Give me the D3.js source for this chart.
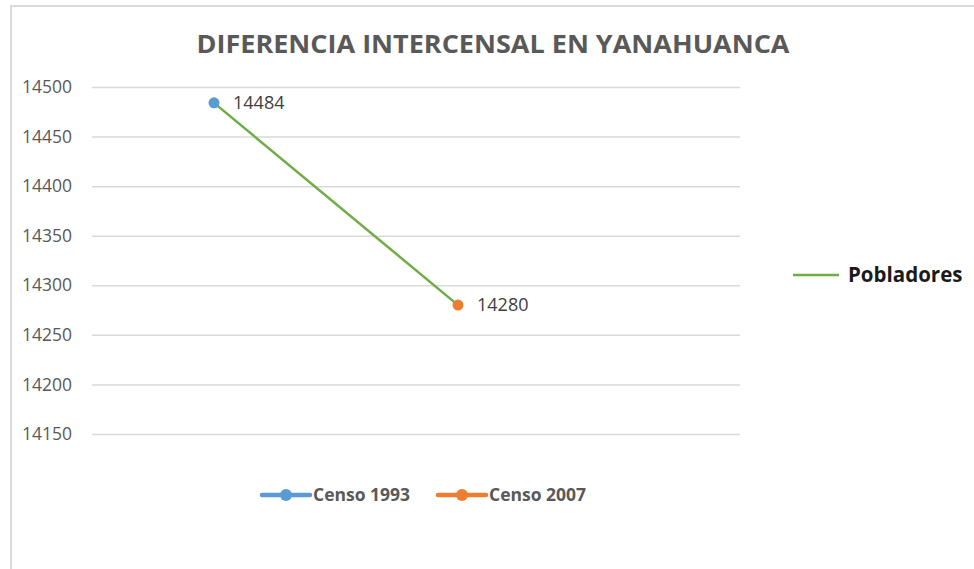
<!doctype html>
<html>
<head>
<meta charset="utf-8">
<title>Diferencia intercensal</title>
<script src="https://cdn.jsdelivr.net/npm/d3@7"></script>
<style>
    html, body { margin: 0; padding: 0; background: #fff; }
    svg { display: block; }
</style>
</head>
<body>
<svg width="974" height="569"></svg>
<script>
    var categories = ['Censo 1993', 'Censo 2007'];
    var values = [14484, 14280];
    var seriesColors = ['#5b9bd5', '#ed7d31'];
    var lineName = 'Pobladores';
    var yTicks = [14150, 14200, 14250, 14300, 14350, 14400, 14450, 14500];

    var svg = d3.select('svg');
    var font = '"Open Sans", "Liberation Sans", sans-serif';

    // chart frame
    svg.append('path')
        .attr('d', 'M11,569V6H974')
        .attr('fill', 'none')
        .attr('stroke', '#d9d9d9')
        .attr('stroke-width', 2);

    svg.append('text')
        .attr('x', 493).attr('y', 53)
        .attr('text-anchor', 'middle')
        .attr('textLength', 593)
        .attr('lengthAdjust', 'spacingAndGlyphs')
        .style('font-family', font)
        .style('font-size', '25px')
        .style('font-weight', 'bold')
        .attr('fill', '#595959')
        .text('DIFERENCIA INTERCENSAL EN YANAHUANCA');

    var yScale = d3.scaleLinear().domain([14150, 14500]).range([434, 87]);
    var xScale = d3.scaleBand().domain(categories).range([92, 580]);
    var gridRight = 740;

    var yAxis = d3.axisLeft(yScale).tickValues(yTicks).tickSize(-(gridRight - 92)).tickPadding(16).tickFormat(d3.format('d'));
    var yAxisGroup = svg.append('g')
        .attr('transform', 'translate(92,0)')
        .call(yAxis);
    yAxisGroup.select('.domain').remove();
    yAxisGroup.selectAll('.tick line').attr('stroke', '#d9d9d9').attr('stroke-width', 1.5);
    yAxisGroup.selectAll('.tick text')
        .attr('x', -20)
        .style('font-family', font)
        .style('font-size', '17.5px')
        .attr('fill', '#595959');

    var cx = function(i) { return xScale(categories[i]) + xScale.bandwidth() / 2; };

    var line = d3.line()
        .x(function(d, i) { return cx(i); })
        .y(function(d) { return yScale(d); });

    svg.append('path')
        .datum(values)
        .attr('d', line)
        .attr('fill', 'none')
        .attr('stroke', '#70ad47')
        .attr('stroke-width', 2.5);

    svg.selectAll('.pt')
        .data(values)
        .enter().append('circle')
        .attr('class', 'pt')
        .attr('cx', function(d, i) { return cx(i); })
        .attr('cy', function(d) { return yScale(d); })
        .attr('r', 5.5)
        .attr('fill', function(d, i) { return seriesColors[i]; });

    svg.selectAll('.lbl')
        .data(values)
        .enter().append('text')
        .attr('class', 'lbl')
        .attr('x', function(d, i) { return cx(i) + 19; })
        .attr('y', function(d) { return yScale(d) + 6; })
        .style('font-family', font)
        .style('font-size', '18px')
        .attr('fill', '#404040')
        .text(function(d) { return d; });

    // bottom legend
    var legendX = [262, 438];
    var lg = svg.selectAll('.lg')
        .data(categories)
        .enter().append('g')
        .attr('class', 'lg')
        .attr('transform', function(d, i) { return 'translate(' + legendX[i] + ',495)'; });
    lg.append('line')
        .attr('x1', 0).attr('x2', 48)
        .attr('stroke', function(d, i) { return seriesColors[i]; })
        .attr('stroke-width', 4.5)
        .attr('stroke-linecap', 'round');
    lg.append('circle')
        .attr('cx', 24).attr('r', 6)
        .attr('fill', function(d, i) { return seriesColors[i]; });
    lg.append('text')
        .attr('x', 51).attr('y', 6)
        .style('font-family', font)
        .style('font-size', '17.5px')
        .style('font-weight', 'bold')
        .attr('fill', '#595959')
        .text(function(d) { return d; });

    // right legend
    var rl = svg.append('g').attr('transform', 'translate(793,275)');
    rl.append('line')
        .attr('x1', 0).attr('x2', 46)
        .attr('stroke', '#70ad47')
        .attr('stroke-width', 2.5);
    rl.append('text')
        .attr('x', 55).attr('y', 7)
        .style('font-family', font)
        .style('font-size', '20.5px')
        .style('font-weight', 'bold')
        .attr('fill', '#1a1a1a')
        .text(lineName);
</script>
</body>
</html>
